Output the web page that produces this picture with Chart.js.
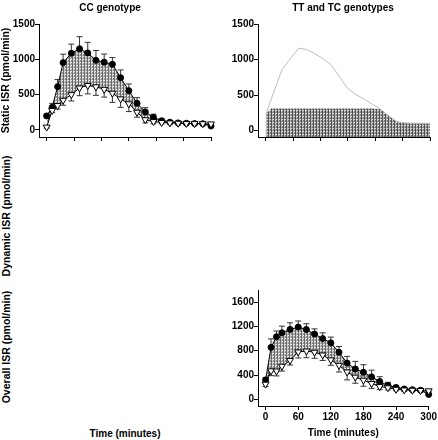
<!DOCTYPE html>
<html>
<head>
<meta charset="utf-8">
<script src="https://cdn.jsdelivr.net/npm/chart.js@4.4.1/dist/chart.umd.min.js"></script>
<style>
  html, body { margin: 0; padding: 0; background: #fff; }
  #page { position: relative; width: 438px; height: 440px; overflow: hidden;
          font-family: 'Liberation Sans', Arial, sans-serif; font-weight: bold; font-size: 10px; color: #000; }
  .box { position: absolute; }
  .lbl { position: absolute; white-space: nowrap; }
  .ctr { transform: translate(-50%, -50%); }
  .rot { transform: translate(-50%, -50%) rotate(-90deg); font-size: 10.5px; }
</style>
</head>
<body>
<div id="page">
  <div class="box" style="left:0;top:0;width:220px;height:150px"><canvas id="ccStatic"></canvas></div>
  <div class="box" style="left:220px;top:0;width:218px;height:150px"><canvas id="ttStatic"></canvas></div>
  <div class="box" style="left:220px;top:270px;width:218px;height:170px"><canvas id="overall"></canvas></div>

  <div class="lbl ctr" style="left:110px;top:7px">CC genotype</div>
  <div class="lbl ctr" style="left:343px;top:7px">TT and TC genotypes</div>
  <div class="lbl rot" style="left:6px;top:216px">Dynamic ISR (pmol/min)</div>
  <div class="lbl rot" style="left:6px;top:347px">Overall ISR (pmol/min)</div>
  <div class="lbl ctr" style="left:125px;top:433px">Time (minutes)</div>
</div>

<script>
// Tiempos de muestreo (minutos)
const times = [0, 10, 20, 30, 45, 60, 75, 90, 105, 120, 135, 150, 165, 180, 195, 210, 225, 240, 255, 270, 285, 300];

// Static ISR, CC genotype
const ccStaticDots   = [198, 321, 613, 953, 1085, 1150, 1090, 985, 960, 930, 740, 556, 377, 255, 178, 130, 110, 100, 95, 90, 88, 55];
const ccStaticDotErr = [25, 55, 100, 120, 130, 170, 150, 140, 115, 95, 110, 95, 80, 60, 45, 30, 20, 15, 10, 10, 10, 10];
const ccStaticTris   = [40, 275, 345, 420, 500, 595, 630, 610, 575, 520, 440, 370, 250, 145, 118, 105, 100, 95, 92, 90, 88, 85];
const ccStaticTriErr = [15, 30, 50, 70, 90, 110, 120, 120, 110, 130, 120, 110, 70, 45, 30, 20, 15, 12, 10, 10, 10, 10];

// Static ISR, TT and TC genotypes
const ttLine = [225, 440, 650, 860, 1010, 1160, 1140, 1080, 1013, 920, 755, 590, 506, 440, 370, 300, 205, 125, 108, 105, 103, 103];
const ttArea = [235, 310, 310, 310, 310, 310, 310, 310, 310, 310, 310, 310, 310, 310, 310, 300, 205, 125, 108, 105, 103, 103];

// Overall ISR
const overallDots   = [320, 855, 1030, 1095, 1150, 1190, 1150, 1075, 1000, 930, 775, 597, 500, 445, 370, 292, 230, 195, 170, 158, 150, 80];
const overallDotErr = [40, 140, 95, 110, 110, 100, 95, 85, 95, 95, 95, 110, 125, 125, 110, 80, 50, 30, 20, 15, 15, 10];
const overallTris   = [250, 470, 465, 545, 640, 780, 795, 775, 730, 650, 560, 450, 365, 315, 260, 210, 190, 165, 155, 150, 145, 140];
const overallTriErr = [40, 80, 80, 80, 75, 100, 110, 100, 90, 90, 110, 130, 100, 100, 80, 50, 35, 25, 20, 15, 15, 15];

// Marcas de los ejes
const staticTicksY  = [0, 500, 1000, 1500];
const overallTicksY = [0, 400, 800, 1200, 1600];
const topTicksX     = [0, 50, 100, 150, 200, 250, 300];
const bottomTicksX  = [0, 60, 120, 180, 240, 300];

Chart.defaults.font.family = "'Liberation Sans', Arial, sans-serif";
Chart.defaults.font.size = 10;
Chart.defaults.font.weight = 'bold';
Chart.defaults.color = '#000';

// trama gris para el relleno entre curvas
function makePattern(cols) {
    const tile = document.createElement('canvas');
    tile.width = cols.length;
    tile.height = cols[0].length;
    const c = tile.getContext('2d');
    cols.forEach((col, i) => {
        col.forEach((color, j) => {
            c.fillStyle = color;
            c.fillRect(i, j, 1, 1);
        });
    });
    return c.createPattern(tile, 'repeat');
}

const bandPattern = makePattern([
    ['#6a6a6a', '#6a6a6a', '#6a6a6a'],
    ['#d8d8d8', '#b0b0b0', '#d8d8d8'],
    ['#909090', '#909090', '#f4f4f4']
]);
const areaPattern = makePattern([
    ['#505050', '#505050', '#505050'],
    ['#c8c8c8', '#a0a0a0', '#c8c8c8'],
    ['#787878', '#787878', '#e8e8e8']
]);

function pts(values) {
    return times.map((t, i) => ({ x: t, y: values[i] }));
}

// barras de error (hacia arriba o hacia abajo)
const errorBars = {
    id: 'errorBars',
    beforeDatasetsDraw(chart) {
        const ctx = chart.ctx;
        const x = chart.scales.x;
        const y = chart.scales.y;
        chart.data.datasets.forEach(ds => {
            if (!ds.errors) return;
            ctx.save();
            ctx.strokeStyle = '#333';
            ctx.lineWidth = 1;
            ds.data.forEach((p, i) => {
                const px = x.getPixelForValue(p.x);
                const y0 = y.getPixelForValue(p.y);
                const y1 = y.getPixelForValue(p.y + ds.errorDir * ds.errors[i]);
                ctx.beginPath();
                ctx.moveTo(px, y0);
                ctx.lineTo(px, y1);
                ctx.moveTo(px - 3, y1);
                ctx.lineTo(px + 3, y1);
                ctx.stroke();
            });
            ctx.restore();
        });
    }
};

function xAxis(tickValues, showLabels, height, title) {
    return {
        type: 'linear',
        min: -14,
        max: 300,
        afterBuildTicks: s => { s.ticks = tickValues.map(v => ({ value: v })); },
        afterFit: s => { s.height = height; },
        grid: { drawOnChartArea: false, drawTicks: true, tickLength: 4, color: '#000' },
        border: { color: '#000', width: 1 },
        ticks: { display: showLabels, padding: 1, maxRotation: 0, autoSkip: false, callback: v => String(v) },
        title: { display: !!title, text: title || '', padding: { top: 0, bottom: 1 } }
    };
}

function yAxis(tickValues, min, max, width, title) {
    return {
        min: min,
        max: max,
        afterBuildTicks: s => { s.ticks = tickValues.map(v => ({ value: v })); },
        afterFit: s => { s.width = width; },
        grid: { drawOnChartArea: false, drawTicks: true, tickLength: 4, color: '#000' },
        border: { color: '#000', width: 1 },
        ticks: { padding: 0, autoSkip: false, callback: v => String(v) },
        title: { display: !!title, text: title || '', font: { size: 10.5 }, padding: { top: 0, bottom: 0 } }
    };
}

function baseOptions(padding, scales) {
    return {
        responsive: true,
        maintainAspectRatio: false,
        animation: false,
        layout: { padding: padding },
        plugins: {
            legend: { display: false },
            tooltip: { enabled: false },
            filler: { drawTime: 'beforeDatasetsDraw' }
        },
        scales: scales
    };
}

function triangleSet(values, errs) {
    return {
        data: pts(values),
        borderColor: '#000',
        borderWidth: 1,
        pointStyle: 'triangle',
        pointRotation: 180,
        pointRadius: 4,
        pointBackgroundColor: '#fff',
        pointBorderColor: '#000',
        pointBorderWidth: 1,
        fill: false,
        clip: false,
        errors: errs,
        errorDir: -1
    };
}

function dotSet(values, errs) {
    return {
        data: pts(values),
        borderColor: '#000',
        borderWidth: 1,
        pointRadius: 3,
        pointBackgroundColor: '#000',
        pointBorderColor: '#000',
        fill: '-1',
        backgroundColor: bandPattern,
        clip: false,
        errors: errs,
        errorDir: 1
    };
}

// Static ISR - CC
new Chart(document.getElementById('ccStatic'), {
    type: 'line',
    data: { datasets: [triangleSet(ccStaticTris, ccStaticTriErr), dotSet(ccStaticDots, ccStaticDotErr)] },
    options: baseOptions({ top: 24, right: 9, left: 0, bottom: 0 }, {
        x: xAxis(topTicksX, false, 13),
        y: yAxis(staticTicksY, -100, 1500, 39, 'Static ISR (pmol/min)')
    }),
    plugins: [errorBars]
});

// Static ISR - TT y TC
new Chart(document.getElementById('ttStatic'), {
    type: 'line',
    data: {
        datasets: [
            {
                data: pts(ttLine),
                borderColor: '#bdbdbd',
                borderWidth: 1,
                pointRadius: 0,
                fill: false,
                clip: false
            },
            {
                data: pts(ttArea),
                borderWidth: 0,
                borderColor: 'rgba(0,0,0,0)',
                pointRadius: 0,
                fill: 'start',
                backgroundColor: areaPattern
            }
        ]
    },
    options: baseOptions({ top: 24, right: 8, left: 0, bottom: 0 }, {
        x: xAxis(topTicksX, false, 13),
        y: yAxis(staticTicksY, -90, 1500, 38)
    })
});

// Overall ISR
new Chart(document.getElementById('overall'), {
    type: 'line',
    data: { datasets: [triangleSet(overallTris, overallTriErr), dotSet(overallDots, overallDotErr)] },
    options: baseOptions({ top: 20, right: 9, left: 0, bottom: 0 }, {
        x: xAxis(bottomTicksX, true, 34, 'Time (minutes)'),
        y: yAxis(overallTicksY, -110, 1800, 38)
    }),
    plugins: [errorBars]
});
</script>
</body>
</html>
